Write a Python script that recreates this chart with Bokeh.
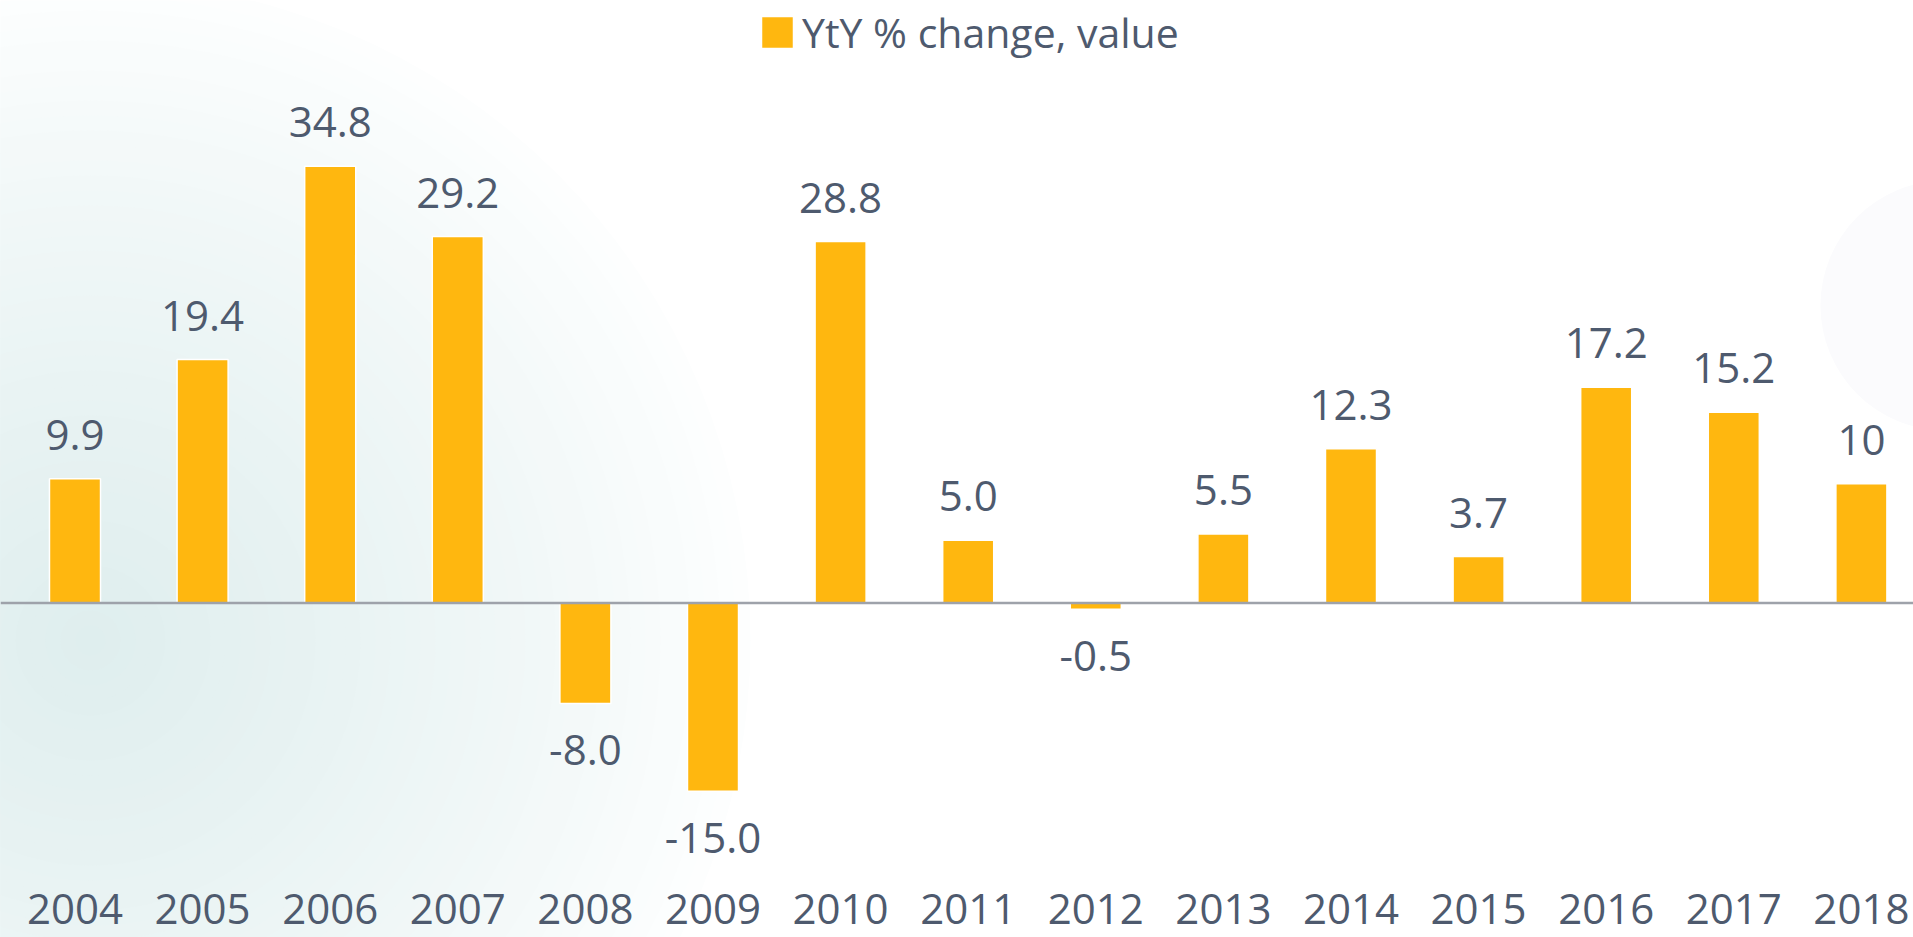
from bokeh.plotting import figure
from bokeh.models import ColumnDataSource, Range1d, Span, Legend, LegendItem
from bokeh.core.properties import value
from bokeh.embed import file_html
from bokeh.resources import INLINE

years = ["2004", "2005", "2006", "2007", "2008", "2009", "2010", "2011",
         "2012", "2013", "2014", "2015", "2016", "2017", "2018"]
yty_change = [9.9, 19.4, 34.8, 29.2, -8.0, -15.0, 28.8, 5.0, -0.5, 5.5, 12.3, 3.7, 17.2, 15.2, 9.5]
value_labels = ["9.9", "19.4", "34.8", "29.2", "-8.0", "-15.0", "28.8", "5.0",
                "-0.5", "5.5", "12.3", "3.7", "17.2", "15.2", "10"]
series_name = "YtY % change, value"

BAR = "#FFB70F"
TXT = "#4E5A6E"
FONT = "Open Sans"

W, H = 1913, 937
px_x = 127.6
px_y = 12.55
zero_canvas = 602.5

idx = list(range(len(years)))
pos = [v >= 0 for v in yty_change]
src_pos = ColumnDataSource(dict(x=[i for i in idx if pos[i]],
                                y=[yty_change[i] for i in idx if pos[i]],
                                t=[value_labels[i] for i in idx if pos[i]]))
src_neg = ColumnDataSource(dict(x=[i for i in idx if not pos[i]],
                                y=[yty_change[i] for i in idx if not pos[i]],
                                t=[value_labels[i] for i in idx if not pos[i]]))

x_start = -74.5 / px_x
x_end = x_start + W / px_x
y_end = zero_canvas / px_y
y_start = y_end - H / px_y

p = figure(width=W, height=H, output_backend="svg", toolbar_location=None,
           min_border_left=0, min_border_right=0, min_border_top=0, min_border_bottom=0,
           x_range=Range1d(x_start, x_end), y_range=Range1d(y_start, y_end),
           x_axis_type=None, y_axis_type=None)
p.outline_line_color = None
p.grid.visible = False
p.background_fill_color = "white"
p.border_fill_color = "white"


def mix(c1, c2, t):
    a = [int(c1[i:i + 2], 16) for i in (1, 3, 5)]
    b = [int(c2[i:i + 2], 16) for i in (1, 3, 5)]
    return "#%02x%02x%02x" % tuple(round(a[k] + (b[k] - a[k]) * t) for k in range(3))


def glow(px, py, rmax, step, inner, power):
    # decorative radial glow built from opaque concentric discs
    cx = x_start + px / px_x
    cy = (zero_canvas - py) / px_y
    radii = list(range(rmax, 10, -step))
    n = len(radii)
    for k, r in enumerate(radii):
        t = ((k + 1) / n) ** power
        p.scatter(x=[cx], y=[cy], size=2 * r, marker="circle",
                  fill_color=mix("#ffffff", inner, t), line_color=None)


glow(90, 640, 660, 15, "#dfeeee", 0.8)
glow(1945, 305, 125, 125, "#fbfbfd", 1.0)

zero = Span(location=0, dimension="width", line_color="#9EA2AA", line_width=2.5)
p.add_layout(zero)

r_pos = p.vbar(x="x", top="y", bottom=0, width=0.40, source=src_pos,
               fill_color=BAR, line_color="white", line_width=1.5)
p.vbar(x="x", top="y", bottom=0, width=0.40, source=src_neg,
       fill_color=BAR, line_color="white", line_width=1.5)

p.text(x="x", y="y", text="t", source=src_pos, text_align="center",
       text_baseline="alphabetic", y_offset=-44, text_font=value(FONT),
       text_font_size="42px", text_color=TXT)
p.text(x="x", y="y", text="t", source=src_neg, text_align="center",
       text_baseline="alphabetic", y_offset=47, text_font=value(FONT),
       text_font_size="42px", text_color=TXT)

# category labels along the bottom edge
src_years = ColumnDataSource(dict(x=idx, y=[y_start] * len(idx), t=years))
p.text(x="x", y="y", text="t", source=src_years, text_align="center",
       text_baseline="alphabetic", y_offset=-29, text_font=value(FONT),
       text_font_size="42px", text_color=TXT)

legend = Legend(items=[LegendItem(label=series_name, renderers=[r_pos])],
                location=(757, H - 60), orientation="horizontal",
                label_text_font=FONT, label_text_font_size="41px",
                label_text_color=TXT, glyph_width=40, glyph_height=40,
                border_line_color=None, background_fill_alpha=0,
                padding=0, margin=0, label_standoff=5)
p.add_layout(legend)

open("out.html", "w").write(file_html(p, INLINE))
